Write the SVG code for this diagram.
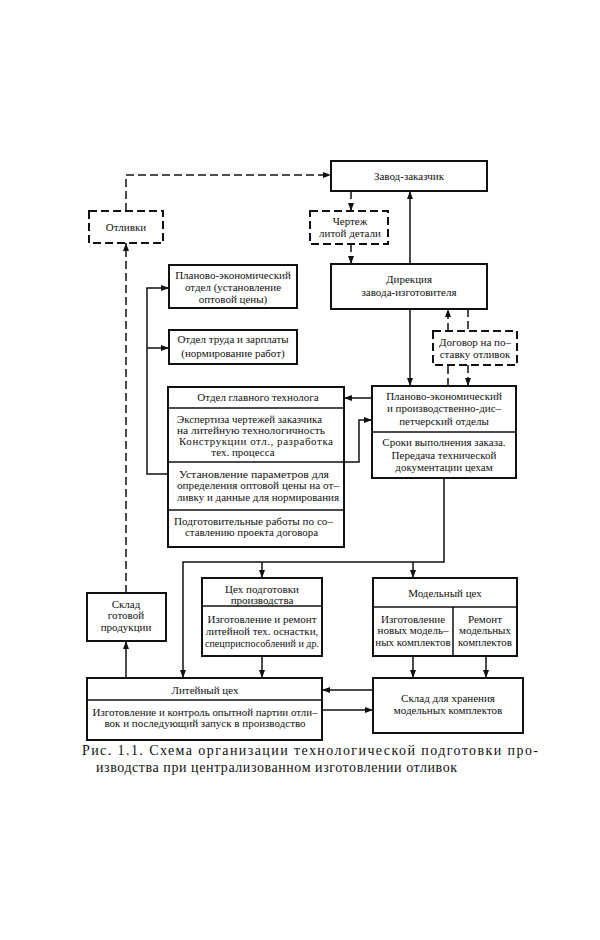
<svg xmlns="http://www.w3.org/2000/svg" width="600" height="940" viewBox="0 0 600 940">
<defs>
<marker id="ah" markerWidth="8" markerHeight="6" refX="8" refY="3" orient="auto" markerUnits="userSpaceOnUse">
<path d="M0,0 L8,3 L0,6 Z" fill="#111"/>
</marker>
<style>
.box{fill:#fff;stroke:#111;stroke-width:2}
.dbox{fill:#fff;stroke:#111;stroke-width:2;stroke-dasharray:8 4}
.div{stroke:#111;stroke-width:1.5;fill:none}
.ln{stroke:#111;stroke-width:1.5;fill:none}
.dl{stroke:#111;stroke-width:1.5;fill:none;stroke-dasharray:8 4}
text{font-family:"Liberation Serif","DejaVu Serif",serif;font-size:11px;fill:#111}
.c{text-anchor:middle}
.cap{font-size:14px}
</style>
</defs>
<rect width="600" height="940" fill="#fff"/>

<g id="connectors">
<path class="dl" d="M126,211 V175 H331" marker-end="url(#ah)"/>
<path class="dl" d="M351,191 V211" marker-end="url(#ah)"/>
<path class="dl" d="M351,244 V264" marker-end="url(#ah)"/>
<path class="ln" d="M410,264 V191" marker-end="url(#ah)"/>
<path class="ln" d="M410,309 V386" marker-end="url(#ah)"/>
<path class="dl" d="M468,309 V331"/>
<path class="dl" d="M468,365 V386" marker-end="url(#ah)"/>
<path class="dl" d="M448,386 V365"/>
<path class="dl" d="M448,331 V309" marker-end="url(#ah)"/>
<path class="ln" d="M372,398 H344" marker-end="url(#ah)"/>
<path class="ln" d="M344,462 H359 V420 H372" marker-end="url(#ah)"/>
<path class="ln" d="M168,474 H147 V288 H169" marker-end="url(#ah)"/>
<path class="ln" d="M147,348 H169" marker-end="url(#ah)"/>
<path class="ln" d="M444,478 V562 H183 V678" marker-end="url(#ah)"/>
<path class="ln" d="M262,562 V578" marker-end="url(#ah)"/>
<path class="ln" d="M413,562 V578" marker-end="url(#ah)"/>
<path class="ln" d="M262,656 V678" marker-end="url(#ah)"/>
<path class="ln" d="M413,656 V678" marker-end="url(#ah)"/>
<path class="ln" d="M486,656 V678" marker-end="url(#ah)"/>
<path class="ln" d="M373,690 H322" marker-end="url(#ah)"/>
<path class="ln" d="M322,710 H373" marker-end="url(#ah)"/>
<path class="ln" d="M126,678 V641" marker-end="url(#ah)"/>
<path class="dl" d="M126,593 V243" marker-end="url(#ah)"/>
</g>

<g id="zavod-zakazchik">
<rect class="box" x="331" y="161" width="156" height="30"/>
<text class="c" x="409" y="180">Завод-заказчик</text>
</g>

<g id="otlivki">
<rect class="dbox" x="89" y="211" width="74" height="32"/>
<text class="c" x="126" y="231">Отливки</text>
</g>

<g id="chertezh">
<rect class="dbox" x="310" y="211" width="78" height="33"/>
<text class="c" x="350" y="225">Чертеж</text>
<text class="c" x="350" y="237">литой детали</text>
</g>

<g id="direkciya">
<rect class="box" x="331" y="264" width="156" height="45"/>
<text class="c" x="409" y="283">Дирекция</text>
<text class="c" x="409" y="296">завода-изготовителя</text>
</g>

<g id="plan-otdel">
<rect class="box" x="169" y="265" width="128" height="43"/>
<text class="c" x="233" y="279">Планово-экономический</text>
<text class="c" x="233" y="291">отдел (установление</text>
<text class="c" x="233" y="303">оптовой цены)</text>
</g>

<g id="otdel-truda">
<rect class="box" x="169" y="330" width="128" height="34"/>
<text class="c" x="233" y="343">Отдел труда и зарплаты</text>
<text class="c" x="233" y="357">(нормирование работ)</text>
</g>

<g id="dogovor">
<rect class="dbox" x="433" y="331" width="84" height="34"/>
<text class="c" x="475" y="346">Договор на по–</text>
<text class="c" x="475" y="358">ставку отливок</text>
</g>

<g id="otdel-glavnogo-tehnologa">
<rect class="box" x="168" y="387" width="176" height="160"/>
<line class="div" x1="168" y1="408" x2="344" y2="408"/>
<line class="div" x1="168" y1="462" x2="344" y2="462"/>
<line class="div" x1="168" y1="510" x2="344" y2="510"/>
<text class="c" x="258" y="401">Отдел главного технолога</text>
<text x="177" y="423" textLength="145" lengthAdjust="spacingAndGlyphs">Экспертиза чертежей заказчика</text>
<text x="177" y="434" textLength="148" lengthAdjust="spacingAndGlyphs">на литейную технологичность</text>
<text x="179" y="445" textLength="154" lengthAdjust="spacing">Конструкции отл.,    разработка</text>
<text class="c" x="243" y="456">тех. процесса</text>
<text x="179" y="478" textLength="150" lengthAdjust="spacingAndGlyphs">Установление параметров для</text>
<text x="177" y="489" textLength="162" lengthAdjust="spacingAndGlyphs">определения оптовой цены на от–</text>
<text x="177" y="501" textLength="162" lengthAdjust="spacingAndGlyphs">ливку и данные для нормирования</text>
<text x="174" y="525" textLength="159" lengthAdjust="spacingAndGlyphs">Подготовительные работы по со–</text>
<text x="185" y="536" textLength="133" lengthAdjust="spacingAndGlyphs">ставлению проекта договора</text>
</g>

<g id="plan-disp-otdely">
<rect class="box" x="372" y="386" width="144" height="92"/>
<line class="div" x1="372" y1="432" x2="516" y2="432"/>
<text class="c" x="444" y="400">Планово-экономический</text>
<text class="c" x="444" y="412">и производственно-дис–</text>
<text class="c" x="444" y="425">петчерский отделы</text>
<text class="c" x="444" y="446">Сроки выполнения заказа.</text>
<text class="c" x="444" y="459">Передача технической</text>
<text class="c" x="444" y="471">документации цехам</text>
</g>

<g id="sklad-gotovoy">
<rect class="box" x="87" y="593" width="79" height="48"/>
<text class="c" x="126" y="608">Склад</text>
<text class="c" x="126" y="619">готовой</text>
<text class="c" x="126" y="631">продукции</text>
</g>

<g id="ceh-podgotovki">
<rect class="box" x="202" y="578" width="120" height="78"/>
<line class="div" x1="202" y1="606" x2="322" y2="606"/>
<text class="c" x="262" y="593">Цех подготовки</text>
<text class="c" x="262" y="604">производства</text>
<text class="c" x="262" y="623">Изготовление и ремонт</text>
<text class="c" x="262" y="635">литейной тех. оснастки,</text>
<text class="c" x="262" y="647" textLength="114" lengthAdjust="spacingAndGlyphs">спецприспособлений и др.</text>
</g>

<g id="modelnyy-ceh">
<rect class="box" x="373" y="578" width="144" height="78"/>
<line class="div" x1="373" y1="607" x2="517" y2="607"/>
<line class="div" x1="453" y1="607" x2="453" y2="656"/>
<text class="c" x="445" y="597">Модельный цех</text>
<text class="c" x="413" y="623">Изготовление</text>
<text class="c" x="413" y="634">новых модель–</text>
<text class="c" x="413" y="646">ных комплектов</text>
<text class="c" x="485" y="623">Ремонт</text>
<text class="c" x="485" y="634">модельных</text>
<text class="c" x="485" y="646">комплектов</text>
</g>

<g id="liteynyy-ceh">
<rect class="box" x="87" y="678" width="235" height="62"/>
<line class="div" x1="87" y1="700" x2="322" y2="700"/>
<text class="c" x="205" y="694">Литейный цех</text>
<text class="c" x="205" y="716" textLength="225" lengthAdjust="spacingAndGlyphs">Изготовление и контроль опытной партии отли–</text>
<text class="c" x="205" y="727">вок и последующий запуск в производство</text>
</g>

<g id="sklad-hraneniya">
<rect class="box" x="373" y="678" width="150" height="55"/>
<text class="c" x="448" y="702">Склад для хранения</text>
<text class="c" x="448" y="714">модельных комплектов</text>
</g>

<g id="caption">
<text class="cap" x="82" y="755" textLength="456" lengthAdjust="spacing">Рис. 1.1. Схема организации технологической подготовки про-</text>
<text class="cap" x="96" y="772" textLength="361" lengthAdjust="spacing">изводства при централизованном изготовлении отливок</text>
</g>
</svg>
